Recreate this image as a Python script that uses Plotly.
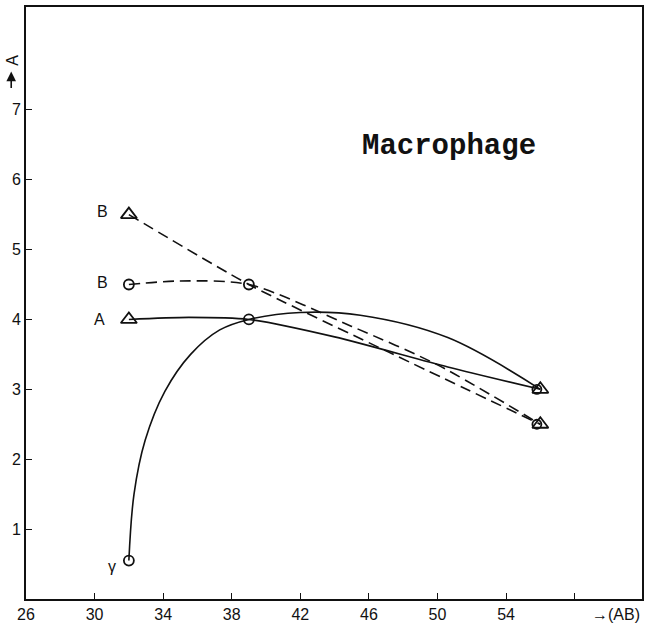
import plotly.graph_objects as go

# Measured points (x = AB, y = A)
tri_B_x = [32, 39, 56]
tri_B_y = [5.5, 4.5, 2.5]
circ_B_x = [32, 39, 56]
circ_B_y = [4.5, 4.5, 2.5]
tri_A_x = [32, 39, 56]
tri_A_y = [4.0, 4.0, 3.0]
gamma_x = [32, 39, 56]
gamma_y = [0.55, 4.0, 3.0]

# Points along the hand-drawn curves
curve_triB_x = [32, 39, 47, 56]
curve_triB_y = [5.5, 4.5, 3.55, 2.5]
curve_circB_x = [32, 35, 39, 45, 50, 56]
curve_circB_y = [4.5, 4.55, 4.5, 3.9, 3.35, 2.5]
curve_A_x = [32, 35.5, 39, 44, 50.6, 56]
curve_A_y = [4.0, 4.03, 4.0, 3.75, 3.32, 3.0]
curve_gamma_x = [32, 32.3, 32.95, 34.1, 35.6, 37.3, 39, 42, 45.5, 50.6, 56]
curve_gamma_y = [0.55, 1.5, 2.27, 2.97, 3.5, 3.85, 4.0, 4.1, 4.06, 3.74, 3.0]

x_ticks = [26, 30, 34, 38, 42, 46, 50, 54, 58]
x_tick_text = ["26", "30", "34", "38", "42", "46", "50", "54", ""]
y_ticks = [1, 2, 3, 4, 5, 6, 7]

point_labels = ["B", "B", "A", "γ"]
label_x = [30.45, 30.45, 30.3, 31.0]
label_y = [5.54, 4.53, 4.0, 0.46]

ink = "#111111"
fig = go.Figure()

dash = "11px,6px"
fig.add_trace(go.Scatter(x=curve_triB_x, y=curve_triB_y, mode="lines",
                         line=dict(color=ink, width=1.6, dash=dash, shape="spline", smoothing=0.6)))
fig.add_trace(go.Scatter(x=curve_circB_x, y=curve_circB_y, mode="lines",
                         line=dict(color=ink, width=1.6, dash=dash, shape="spline", smoothing=0.8)))
fig.add_trace(go.Scatter(x=curve_A_x, y=curve_A_y, mode="lines",
                         line=dict(color=ink, width=1.6, shape="spline", smoothing=0.8)))
fig.add_trace(go.Scatter(x=curve_gamma_x, y=curve_gamma_y, mode="lines",
                         line=dict(color=ink, width=1.6, shape="spline", smoothing=1.0)))

tri = dict(symbol="triangle-up-open", size=14, color=ink, line=dict(width=1.8, color=ink))
circ = dict(symbol="circle-open", size=10, color=ink, line=dict(width=1.8, color=ink))

fig.add_trace(go.Scatter(x=[tri_B_x[0]], y=[tri_B_y[0]], mode="markers", marker=tri))
fig.add_trace(go.Scatter(x=[tri_A_x[0]], y=[tri_A_y[0]], mode="markers", marker=tri))
fig.add_trace(go.Scatter(x=[tri_A_x[2], tri_B_x[2]], y=[tri_A_y[2], tri_B_y[2]], mode="markers", marker=tri))
fig.add_trace(go.Scatter(x=[circ_B_x[0], circ_B_x[1], gamma_x[0], gamma_x[1]],
                         y=[circ_B_y[0], circ_B_y[1], gamma_y[0], gamma_y[1]],
                         mode="markers", marker=circ))
fig.add_trace(go.Scatter(x=[gamma_x[2] - 0.2, circ_B_x[2] - 0.2], y=[gamma_y[2], circ_B_y[2]],
                         mode="markers", marker=dict(circ, size=9)))

for t, lx, ly in zip(point_labels, label_x, label_y):
    fig.add_annotation(x=lx, y=ly, text=t, showarrow=False,
                       font=dict(family="Liberation Sans", size=16, color=ink))

fig.add_annotation(x=50.7, y=6.47, text="<b>Macrophage</b>", showarrow=False,
                   font=dict(family="Liberation Mono", size=29, color=ink))

# y-axis caption: rotated "A" with an upward arrow beneath it
fig.add_annotation(xref="paper", yref="paper", x=-0.022, y=0.91, text="A",
                   xanchor="center", yanchor="middle",
                   textangle=-90, showarrow=False,
                   font=dict(family="Liberation Sans", size=16, color=ink))
fig.add_annotation(xref="paper", yref="paper", x=-0.024, y=0.891,
                   ax=0, ay=18, text="", showarrow=True,
                   arrowhead=2, arrowsize=1.2, arrowwidth=1.6, arrowcolor=ink)

fig.add_annotation(xref="paper", yref="paper", x=1.0, y=-0.0255, text="→(AB)",
                   xanchor="right", yanchor="middle", showarrow=False,
                   font=dict(family="Liberation Sans", size=16, color=ink))

axis_common = dict(showgrid=False, zeroline=False, showline=True, linecolor=ink,
                   linewidth=1.6, mirror=True, ticks="inside", ticklen=6,
                   tickwidth=1.4, tickcolor=ink,
                   tickfont=dict(family="Liberation Sans", size=16, color=ink))

fig.update_layout(
    width=649, height=628,
    margin=dict(l=26, r=5, t=7, b=28),
    paper_bgcolor="white", plot_bgcolor="white",
    showlegend=False,
    xaxis=dict(axis_common, range=[26, 61.93], tickvals=x_ticks, ticktext=x_tick_text),
    yaxis=dict(axis_common, range=[0, 8.47], tickvals=y_ticks),
)

fig.write_html("out.html")
